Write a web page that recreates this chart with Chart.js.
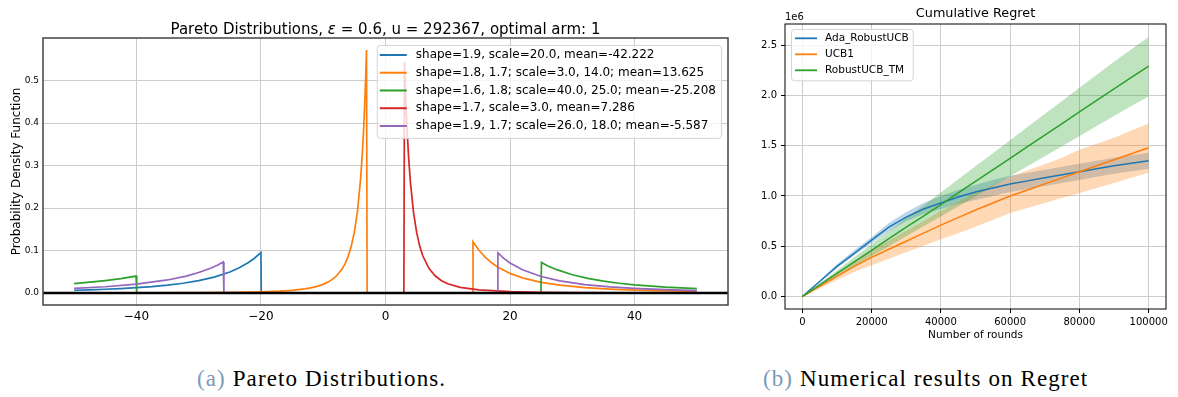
<!DOCTYPE html>
<html>
<head>
<meta charset="utf-8">
<title>Pareto distributions and cumulative regret</title>
<script src="https://cdn.jsdelivr.net/npm/chart.js@4.4.1/dist/chart.umd.min.js"></script>
<style>
  body { margin: 0; background: #fff; width: 1178px; height: 397px; position: relative; overflow: hidden; }
  canvas { position: absolute; top: 0; }
  #pareto { left: 0; }
  #regret { left: 745px; }
  .cap { position: absolute; top: 366px; font-family: "Liberation Serif", serif; font-size: 23px;
         line-height: 26px; letter-spacing: 1.1px; color: #000; white-space: nowrap; }
  .cap span { color: #7a9ab8; }
</style>
</head>
<body>
<canvas id="pareto" width="745" height="345"></canvas>
<canvas id="regret" width="433" height="345"></canvas>
<div class="cap" style="left:197px"><span>(a)</span> Pareto Distributions.</div>
<div class="cap" style="left:763px"><span>(b)</span> Numerical results on Regret</div>

<script>
// ---- left panel: densities ----
const arm1X = [-50, -47.5, -45, -42.5, -40, -37.5, -35, -32.5, -30, -27.5, -25, -23.5, -22, -21, -20, -19.95, 50];
const arm1Y = [0.0067, 0.0077, 0.0090, 0.0107, 0.0127, 0.0153, 0.0188, 0.0232, 0.0293, 0.0377, 0.0497, 0.0595, 0.0721, 0.0825, 0.095, 0, 0];

const arm2X = [-50, -40, -30, -25, -20, -17, -15, -13, -12, -11, -10, -9, -8, -7, -6.5, -6, -5.5, -5, -4.5, -4, -3.7, -3.5, -3.3, -3.15, -3.05, -2.95,
               13.95, 14.05, 15, 16, 17, 18, 20, 22, 25, 28, 32, 36, 40, 45, 50];
const arm2Y = [0.0002, 0.0004, 0.0010, 0.0016, 0.0030, 0.0047, 0.0066, 0.0099, 0.0124, 0.0158, 0.0206, 0.0277, 0.0385, 0.0560, 0.0689, 0.0862, 0.110, 0.1436, 0.193, 0.268, 0.334, 0.390, 0.459, 0.523, 0.572, 0,
               0, 0.121, 0.1008, 0.0846, 0.0719, 0.0616, 0.0463, 0.0358, 0.0254, 0.0187, 0.0130, 0.0095, 0.0071, 0.0052, 0.0039];

const arm3X = [-50, -47.5, -45, -42.5, -40.05, -39.95, 24.95, 25.05, 26, 27.5, 30, 32.5, 35, 37.5, 40, 45, 50];
const arm3Y = [0.0224, 0.0256, 0.0295, 0.0342, 0.0400, 0, 0, 0.072, 0.0645, 0.0551, 0.0432, 0.0345, 0.0281, 0.0231, 0.0193, 0.0139, 0.0103];

const arm4X = [-50, 2.95, 3.05, 3.2, 3.4, 3.7, 4, 4.5, 5, 5.5, 6, 7, 8, 9, 10, 12, 15, 20, 25, 30, 40, 50];
const arm4Y = [0, 0, 0.543, 0.476, 0.404, 0.322, 0.261, 0.190, 0.1427, 0.110, 0.0872, 0.0575, 0.0401, 0.0292, 0.0219, 0.0134, 0.0074, 0.0034, 0.0018, 0.0011, 0.0005, 0.0003];

const arm5X = [-50, -45, -40, -35, -32, -30, -28, -27, -26.05, -25.95, 17.95, 18.05, 19, 20, 22, 25, 28, 32, 36, 40, 45, 50];
const arm5Y = [0.0110, 0.0149, 0.0210, 0.0309, 0.0400, 0.0483, 0.0590, 0.0655, 0.0731, 0, 0, 0.0944, 0.0816, 0.0710, 0.0549, 0.0389, 0.0286, 0.0200, 0.0145, 0.0109, 0.0080, 0.0060];

const armLabels = [
  'shape=1.9, scale=20.0, mean=-42.222',
  'shape=1.8, 1.7; scale=3.0, 14.0; mean=13.625',
  'shape=1.6, 1.8; scale=40.0, 25.0; mean=-25.208',
  'shape=1.7, scale=3.0, mean=7.286',
  'shape=1.9, 1.7; scale=26.0, 18.0; mean=-5.587'
];
const paretoXTicks = [-40, -20, 0, 20, 40];
const paretoYTicks = [0, 0.1, 0.2, 0.3, 0.4, 0.5];

// ---- right panel: cumulative regret (x1e6) ----
const rounds = [0, 5000, 10000, 15000, 20000, 25000, 30000, 35000, 40000, 45000, 50000,
                55000, 60000, 65000, 70000, 75000, 80000, 85000, 90000, 95000, 100000];
const adaMean = [0, 0.15, 0.30, 0.43, 0.56, 0.69, 0.79, 0.87, 0.93, 0.99, 1.04, 1.08, 1.12, 1.15, 1.18, 1.21, 1.24, 1.27, 1.30, 1.325, 1.35];
const adaLow  = [0, 0.14, 0.28, 0.41, 0.53, 0.65, 0.75, 0.82, 0.87, 0.92, 0.96, 1.00, 1.04, 1.07, 1.10, 1.13, 1.16, 1.19, 1.22, 1.245, 1.27];
const adaHigh = [0, 0.16, 0.32, 0.46, 0.59, 0.73, 0.84, 0.93, 1.00, 1.06, 1.11, 1.16, 1.20, 1.23, 1.26, 1.29, 1.32, 1.35, 1.38, 1.405, 1.43];
const ucbMean = [0, 0.10, 0.20, 0.30, 0.39, 0.47, 0.55, 0.63, 0.71, 0.785, 0.86, 0.93, 1.00, 1.06, 1.12, 1.18, 1.24, 1.30, 1.36, 1.42, 1.48];
const ucbLow  = [0, 0.08, 0.165, 0.245, 0.31, 0.375, 0.44, 0.505, 0.57, 0.63, 0.695, 0.76, 0.83, 0.88, 0.93, 0.98, 1.03, 1.08, 1.13, 1.18, 1.23];
const ucbHigh = [0, 0.115, 0.235, 0.355, 0.46, 0.555, 0.655, 0.75, 0.85, 0.94, 1.03, 1.11, 1.19, 1.255, 1.315, 1.38, 1.46, 1.52, 1.58, 1.65, 1.72];
const tmMean  = [0, 0.115, 0.23, 0.345, 0.46, 0.575, 0.69, 0.80, 0.915, 1.03, 1.145, 1.26, 1.375, 1.49, 1.605, 1.72, 1.835, 1.95, 2.065, 2.18, 2.29];
const tmLow   = [0, 0.10, 0.20, 0.30, 0.40, 0.50, 0.60, 0.70, 0.795, 0.895, 0.995, 1.095, 1.195, 1.295, 1.395, 1.495, 1.595, 1.695, 1.795, 1.895, 1.99];
const tmHigh  = [0, 0.13, 0.26, 0.39, 0.52, 0.65, 0.78, 0.905, 1.035, 1.165, 1.295, 1.425, 1.555, 1.685, 1.815, 1.945, 2.075, 2.205, 2.335, 2.46, 2.58];
const algoLabels = ['Ada_RobustUCB', 'UCB1', 'RobustUCB_TM'];
const regretXTicks = [0, 20000, 40000, 60000, 80000, 100000];
const regretYTicks = [0, 0.5, 1.0, 1.5, 2.0, 2.5];

const C = ['#1f77b4', '#ff7f0e', '#2ca02c', '#d62728', '#9467bd'];
const BAND = ['rgba(31,119,180,0.3)', 'rgba(255,127,14,0.3)', 'rgba(44,160,44,0.3)'];
const FONT = 'DejaVu Sans';

function pts(xs, ys) { return xs.map((x, i) => ({ x: x, y: ys[i] })); }

// axes frame (all four spines)
const frameBox = {
  id: 'frameBox',
  afterDatasetsDraw(chart, args, o) {
    const a = chart.chartArea, ctx = chart.ctx;
    ctx.save();
    ctx.strokeStyle = o.color; ctx.lineWidth = o.width;
    ctx.strokeRect(a.left, a.top, a.right - a.left, a.bottom - a.top);
    ctx.restore();
  }
};

// title centred on the axes, pieces may use different fonts
const axTitle = {
  id: 'axTitle',
  afterDraw(chart, args, o) {
    const ctx = chart.ctx, a = chart.chartArea;
    ctx.save();
    ctx.fillStyle = '#000'; ctx.textBaseline = 'middle'; ctx.textAlign = 'left';
    let total = 0;
    const w = o.parts.map(p => { ctx.font = p.font; const m = ctx.measureText(p.text).width; total += m; return m; });
    let x = (a.left + a.right) / 2 - total / 2;
    o.parts.forEach((p, i) => { ctx.font = p.font; ctx.fillText(p.text, x, o.y); x += w[i]; });
    if (o.note) {
      ctx.font = o.note.font;
      ctx.fillText(o.note.text, a.left, o.note.y);
    }
    ctx.restore();
  }
};

// matplotlib-like legend box inside the axes
const boxLegend = {
  id: 'boxLegend',
  afterDraw(chart, args, o) {
    const ctx = chart.ctx, a = chart.chartArea;
    const items = chart.data.datasets.filter(d => d.label);
    ctx.save();
    ctx.font = o.size + 'px "' + FONT + '"';
    const tw = Math.max(...items.map(d => ctx.measureText(d.label).width));
    const w = o.padL + o.lineLen + o.gap + tw + o.padR;
    const h = o.padT + items.length * o.rowH + o.padB;
    const x = o.side === 'right' ? a.right - o.margin - w : a.left + o.margin;
    const y = a.top + o.marginTop;
    ctx.beginPath();
    if (ctx.roundRect) ctx.roundRect(x + 0.5, y + 0.5, w, h, 3); else ctx.rect(x + 0.5, y + 0.5, w, h);
    ctx.fillStyle = 'rgba(255,255,255,0.8)'; ctx.fill();
    ctx.strokeStyle = '#d4d4d4'; ctx.lineWidth = 1; ctx.stroke();
    items.forEach((d, i) => {
      const cy = y + o.padT + (i + 0.5) * o.rowH;
      ctx.strokeStyle = d.borderColor; ctx.lineWidth = o.lineW;
      ctx.beginPath(); ctx.moveTo(x + o.padL, cy); ctx.lineTo(x + o.padL + o.lineLen, cy); ctx.stroke();
      ctx.fillStyle = '#000'; ctx.textBaseline = 'middle'; ctx.textAlign = 'left';
      ctx.fillText(d.label, x + o.padL + o.lineLen + o.gap, cy);
    });
    ctx.restore();
  }
};

// ---------------- left chart ----------------
const armX = [arm1X, arm2X, arm3X, arm4X, arm5X];
const armY = [arm1Y, arm2Y, arm3Y, arm4Y, arm5Y];
const paretoSets = armLabels.map((lab, i) => ({
  label: lab,
  data: pts(armX[i], armY[i]),
  borderColor: C[i], borderWidth: 1.7,
  pointRadius: 0, tension: 0, fill: false,
  order: 5 - i
}));
paretoSets.push({
  data: [{ x: -55, y: 0 }, { x: 55, y: 0 }],
  borderColor: '#000', borderWidth: 2.5, pointRadius: 0, fill: false, order: -1
});

new Chart(document.getElementById('pareto'), {
  type: 'line',
  data: { datasets: paretoSets },
  options: {
    responsive: false, animation: false, devicePixelRatio: 1,
    layout: { padding: { left: 0, top: 38, right: 17, bottom: 0 } },
    plugins: {
      legend: { display: false }, tooltip: { enabled: false },
      frameBox: { color: '#444', width: 1.5 },
      axTitle: {
        y: 30,
        parts: [
          { text: 'Pareto Distributions, ', font: '15px "' + FONT + '"' },
          { text: 'ε', font: 'italic 15px "' + FONT + '"' },
          { text: ' = 0.6, u = 292367, optimal arm: 1', font: '15px "' + FONT + '"' }
        ]
      },
      boxLegend: { side: 'right', margin: 7, marginTop: 7, size: 12, padL: 3, lineLen: 27, gap: 9, padR: 5,
                   padT: 1.1, rowH: 17.75, padB: 3, lineW: 2 }
    },
    scales: {
      x: {
        type: 'linear', min: -55, max: 55,
        afterBuildTicks: s => { s.ticks = paretoXTicks.map(v => ({ value: v })); },
        afterFit: s => { s.height = 40; },
        grid: { color: '#cccccc', lineWidth: 1, drawTicks: false },
        border: { display: false },
        ticks: { autoSkip: false, maxRotation: 0, padding: 5, color: '#000',
                 font: { family: FONT, size: 12 },
                 callback: v => (v < 0 ? '\u2212' + Math.abs(v) : String(v)) }
      },
      y: {
        type: 'linear', min: -0.028, max: 0.6,
        afterBuildTicks: s => { s.ticks = paretoYTicks.map(v => ({ value: v })); },
        afterFit: s => { s.width = 43; },
        grid: { color: '#cccccc', lineWidth: 1, drawTicks: false },
        border: { display: false },
        ticks: { padding: 4, color: '#000', font: { family: FONT, size: 9 }, callback: v => v.toFixed(1) },
        title: { display: true, text: 'Probability Density Function', color: '#000',
                 font: { family: FONT, size: 12 }, padding: { top: 10, bottom: 0 } }
      }
    }
  },
  plugins: [frameBox, axTitle, boxLegend]
});

// ---------------- right chart ----------------
const means = [adaMean, ucbMean, tmMean];
const lows = [adaLow, ucbLow, tmLow];
const highs = [adaHigh, ucbHigh, tmHigh];
const regretSets = [];
algoLabels.forEach((lab, i) => {
  // bands first (higher order = drawn earlier), lines on top
  regretSets.push({ label: lab, data: pts(rounds, means[i]), borderColor: C[i], borderWidth: 1.5,
                    pointRadius: 0, tension: 0, fill: false, order: 3 - i });
  regretSets.push({ data: pts(rounds, lows[i]), borderColor: 'transparent', borderWidth: 0,
                    pointRadius: 0, tension: 0, fill: false, order: 10 - i });
  regretSets.push({ data: pts(rounds, highs[i]), borderColor: 'transparent', borderWidth: 0,
                    pointRadius: 0, tension: 0, fill: '-1', backgroundColor: BAND[i], order: 10 - i });
});

new Chart(document.getElementById('regret'), {
  type: 'line',
  data: { datasets: regretSets },
  options: {
    responsive: false, animation: false, devicePixelRatio: 1,
    layout: { padding: { left: 0, top: 24, right: 12, bottom: 0 } },
    plugins: {
      legend: { display: false }, tooltip: { enabled: false },
      filler: { propagate: false },
      frameBox: { color: '#000', width: 1 },
      axTitle: {
        y: 14,
        parts: [{ text: 'Cumulative Regret', font: '12.8px "' + FONT + '"' }],
        note: { text: '1e6', font: '10px "' + FONT + '"', y: 17 }
      },
      boxLegend: { side: 'left', margin: 6, marginTop: 5, size: 10.5, padL: 4, lineLen: 22, gap: 8, padR: 4,
                   padT: 1.3, rowH: 16, padB: 2, lineW: 1.8 }
    },
    scales: {
      x: {
        type: 'linear', min: -5000, max: 105000,
        afterBuildTicks: s => { s.ticks = regretXTicks.map(v => ({ value: v })); },
        afterFit: s => { s.height = 36; },
        grid: { color: '#cccccc', lineWidth: 1, drawTicks: true, tickLength: 4, tickColor: '#000' },
        border: { display: false },
        ticks: { autoSkip: false, maxRotation: 0, padding: 3, color: '#000',
                 font: { family: FONT, size: 10 }, callback: v => String(v) },
        title: { display: true, text: 'Number of rounds', color: '#000',
                 font: { family: FONT, size: 10.5 }, padding: { top: 0, bottom: 3 } }
      },
      y: {
        type: 'linear', min: -0.124, max: 2.71,
        afterBuildTicks: s => { s.ticks = regretYTicks.map(v => ({ value: v })); },
        afterFit: s => { s.width = 40; },
        grid: { color: '#cccccc', lineWidth: 1, drawTicks: true, tickLength: 4, tickColor: '#000' },
        border: { display: false },
        ticks: { padding: 4, color: '#000', font: { family: FONT, size: 10 }, callback: v => v.toFixed(1) }
      }
    }
  },
  plugins: [frameBox, axTitle, boxLegend]
});
</script>
</body>
</html>
